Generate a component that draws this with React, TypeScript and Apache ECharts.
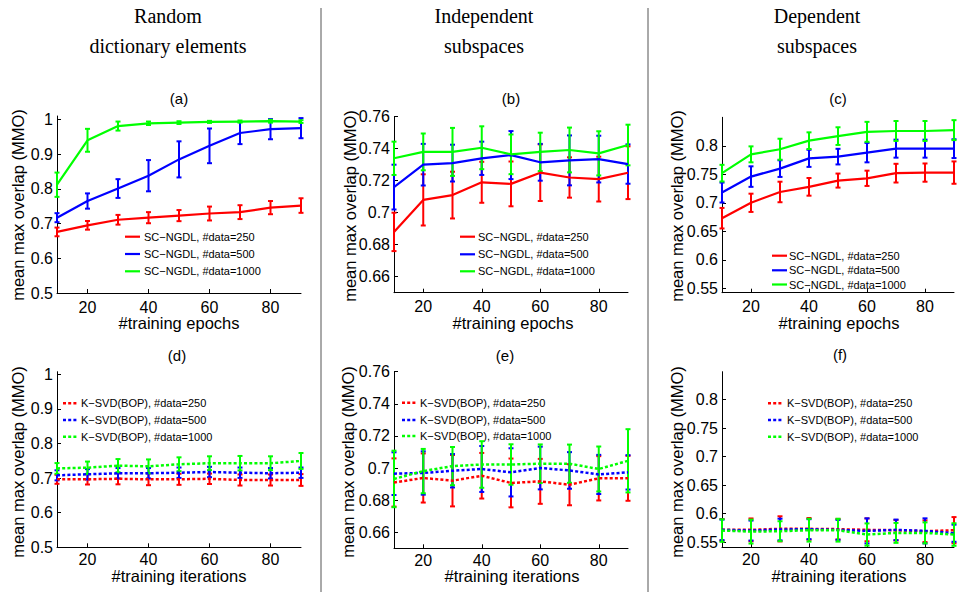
import React, { useEffect, useRef } from "react";
import * as echarts from "echarts";

// ---------- data ----------
const epochs = [10, 20, 30, 40, 50, 60, 70, 80, 90];
const xTicks = [20, 40, 60, 80];
const yTicksRandom = [0.5, 0.6, 0.7, 0.8, 0.9, 1];
const yTicksIndep = [0.66, 0.68, 0.7, 0.72, 0.74, 0.76];
const yTicksDep = [0.55, 0.6, 0.65, 0.7, 0.75, 0.8];

const columnTitles = [
  ["Random", "dictionary elements"],
  ["Independent", "subspaces"],
  ["Dependent", "subspaces"],
];
const panelLabels = ["(a)", "(b)", "(c)", "(d)", "(e)", "(f)"];
const yAxisName = "mean max overlap (MMO)";
const xNameTop = "#training epochs";
const xNameBottom = "#training iterations";
const ngdlNames = ["SC−NGDL, #data=250", "SC−NGDL, #data=500", "SC−NGDL, #data=1000"];
const ksvdNames = ["K−SVD(BOP), #data=250", "K−SVD(BOP), #data=500", "K−SVD(BOP), #data=1000"];

// (a) SC-NGDL, random dictionary elements
const a250 = [0.676, 0.695, 0.711, 0.717, 0.723, 0.729, 0.733, 0.746, 0.752];
const a250e = [0.0125, 0.0125, 0.014, 0.016, 0.016, 0.02, 0.02, 0.019, 0.021];
const a500 = [0.717, 0.765, 0.801, 0.838, 0.885, 0.924, 0.961, 0.972, 0.975];
const a500e = [0.013, 0.022, 0.027, 0.045, 0.052, 0.05, 0.032, 0.029, 0.029];
const a1000 = [0.812, 0.94, 0.981, 0.989, 0.991, 0.993, 0.994, 0.995, 0.994];
const a1000e = [0.035, 0.033, 0.013, 0.005, 0.004, 0.003, 0.003, 0.004, 0.004];

// (b) SC-NGDL, independent subspaces
const b250 = [0.688, 0.708, 0.711, 0.719, 0.718, 0.725, 0.722, 0.721, 0.725];
const b250e = [0.012, 0.016, 0.0146, 0.0128, 0.014, 0.0177, 0.0126, 0.014, 0.0165];
const b500 = [0.716, 0.73, 0.731, 0.734, 0.736, 0.7315, 0.7327, 0.7335, 0.7304];
const b500e = [0.014, 0.013, 0.0115, 0.0104, 0.015, 0.0115, 0.0156, 0.0146, 0.0123];
const b1000 = [0.734, 0.738, 0.738, 0.7406, 0.7365, 0.738, 0.7392, 0.7371, 0.7423];
const b1000e = [0.0104, 0.0115, 0.015, 0.0134, 0.0124, 0.012, 0.014, 0.0138, 0.0127];

// (c) SC-NGDL, dependent subspaces
const c250 = [0.673, 0.7, 0.719, 0.728, 0.739, 0.743, 0.752, 0.753, 0.753];
const c250e = [0.018, 0.016, 0.018, 0.0155, 0.0123, 0.0134, 0.0164, 0.016, 0.0196];
const c500 = [0.718, 0.746, 0.76, 0.778, 0.781, 0.788, 0.795, 0.795, 0.795];
const c500e = [0.0175, 0.018, 0.0146, 0.015, 0.0137, 0.017, 0.0158, 0.0158, 0.0165];
const c1000 = [0.752, 0.785, 0.794, 0.809, 0.817, 0.8245, 0.826, 0.826, 0.8275];
const c1000e = [0.0146, 0.014, 0.0184, 0.0146, 0.0155, 0.0175, 0.0175, 0.0175, 0.0175];

// (d) K-SVD, random dictionary elements
const d250 = [0.6965, 0.6965, 0.698, 0.6965, 0.6965, 0.698, 0.6945, 0.6945, 0.6945];
const d250e = [0.013, 0.015, 0.016, 0.017, 0.016, 0.015, 0.016, 0.016, 0.017];
const d500 = [0.708, 0.711, 0.714, 0.714, 0.7156, 0.7176, 0.7156, 0.714, 0.7156];
const d500e = [0.0145, 0.015, 0.015, 0.015, 0.015, 0.015, 0.015, 0.015, 0.015];
const d1000 = [0.728, 0.73, 0.736, 0.734, 0.74, 0.743, 0.743, 0.743, 0.7495];
const d1000e = [0.0154, 0.0178, 0.019, 0.02, 0.02, 0.02, 0.021, 0.02, 0.023];

// (e) K-SVD, independent subspaces
const e250 = [0.691, 0.6938, 0.6921, 0.6952, 0.6907, 0.6917, 0.6896, 0.6936, 0.6936];
const e250e = [0.015, 0.0153, 0.016, 0.0142, 0.0152, 0.014, 0.0128, 0.0138, 0.014];
const e500 = [0.6965, 0.6969, 0.6983, 0.6994, 0.6973, 0.7, 0.6985, 0.696, 0.6973];
const e500e = [0.0133, 0.0135, 0.0104, 0.0143, 0.015, 0.0133, 0.0114, 0.0122, 0.0107];
const e1000 = [0.6932, 0.6981, 0.7012, 0.7022, 0.7022, 0.7027, 0.7027, 0.6994, 0.7045];
const e1000e = [0.0176, 0.0138, 0.0119, 0.0145, 0.0126, 0.012, 0.0119, 0.014, 0.0197];

// (f) K-SVD, dependent subspaces
const f250 = [0.5716, 0.5716, 0.5734, 0.5734, 0.5728, 0.5716, 0.571, 0.5692, 0.571];
const f250e = [0.019, 0.02, 0.022, 0.019, 0.018, 0.02, 0.018, 0.019, 0.023];
const f500 = [0.5716, 0.5704, 0.5722, 0.5728, 0.5716, 0.5698, 0.5716, 0.5698, 0.5657];
const f500e = [0.018, 0.0175, 0.019, 0.0175, 0.0175, 0.022, 0.018, 0.022, 0.015];
const f1000 = [0.5704, 0.5686, 0.5692, 0.571, 0.571, 0.5634, 0.5663, 0.5663, 0.5634];
const f1000e = [0.0198, 0.021, 0.0175, 0.02, 0.02, 0.0195, 0.0175, 0.0184, 0.0198];

// ---------- layout / style ----------
const COLORS = ["#ff0000", "#0000ff", "#00ff00"];
const SANS = '"Liberation Sans", Arial, Helvetica, sans-serif';
const SERIF = '"Liberation Serif", "Times New Roman", serif';
const DOT = [3, 2.2];

const panels = [
  { grid: { left: 57, top: 116, width: 244, height: 177 }, yMin: 0.5, yMax: 1.01, ticks: yTicksRandom,
    means: [a250, a500, a1000], errs: [a250e, a500e, a1000e], names: ngdlNames, dotted: false,
    labelPos: [179, 98], xName: xNameTop, xNamePos: [179, 323], yNamePos: [18, 205],
    legend: { lx: 125, tx: 144, rows: [236.7, 254, 271.3] }, xMargin: 6 },
  { grid: { left: 394, top: 116.7, width: 234, height: 176 }, yMin: 0.65, yMax: 0.76, ticks: yTicksIndep,
    means: [b250, b500, b1000], errs: [b250e, b500e, b1000e], names: ngdlNames, dotted: false,
    labelPos: [511, 98], xName: xNameTop, xNamePos: [513, 323], yNamePos: [350, 206],
    legend: { lx: 460, tx: 478, rows: [236.7, 254.3, 271.3] }, xMargin: 6 },
  { grid: { left: 722, top: 117.3, width: 232, height: 175.4 }, yMin: 0.5423, yMax: 0.85, ticks: yTicksDep,
    means: [c250, c500, c1000], errs: [c250e, c500e, c1000e], names: ngdlNames, dotted: false,
    labelPos: [838, 98], xName: xNameTop, xNamePos: [839, 323], yNamePos: [677, 206],
    legend: { lx: 772, tx: 789, rows: [255.7, 270.3, 284.5] }, xMargin: 6 },
  { grid: { left: 57, top: 371.7, width: 244, height: 175.6 }, yMin: 0.5, yMax: 1.0075, ticks: yTicksRandom,
    means: [d250, d500, d1000], errs: [d250e, d500e, d1000e], names: ksvdNames, dotted: true,
    labelPos: [177, 355], xName: xNameBottom, xNamePos: [179, 576], yNamePos: [18, 462],
    legend: { lx: 63, tx: 81, rows: [403.3, 420, 436.7] }, xMargin: 4 },
  { grid: { left: 394, top: 371.7, width: 234, height: 176.6 }, yMin: 0.65, yMax: 0.76, ticks: yTicksIndep,
    means: [e250, e500, e1000], errs: [e250e, e500e, e1000e], names: ksvdNames, dotted: true,
    labelPos: [505, 355], xName: xNameBottom, xNamePos: [512, 576], yNamePos: [348, 462],
    legend: { lx: 402, tx: 420, rows: [402.7, 420, 436] }, xMargin: 4 },
  { grid: { left: 722, top: 371.7, width: 232, height: 175.6 }, yMin: 0.541, yMax: 0.849, ticks: yTicksDep,
    means: [f250, f500, f1000], errs: [f250e, f500e, f1000e], names: ksvdNames, dotted: true,
    labelPos: [840, 354], xName: xNameBottom, xNamePos: [839, 576], yNamePos: [677, 462],
    legend: { lx: 768, tx: 787, rows: [403.3, 420, 436.7] }, xMargin: 4 },
];

const columnCenters = [168, 484, 817];

function fmt(v: number) {
  return String(parseFloat(Number(v).toFixed(2)));
}

function buildOption() {
  const series: any[] = [];
  panels.forEach((p, i) => {
    p.means.forEach((m, k) => {
      const color = COLORS[k];
      series.push({
        type: "custom",
        xAxisIndex: i,
        yAxisIndex: i,
        silent: true,
        clip: false,
        data: epochs.map((x, j) => [x, m[j], p.errs[k][j]]),
        encode: { x: 0, y: 1 },
        renderItem: (params: any, api: any) => {
          const x = api.value(0);
          const mv = api.value(1);
          const ev = api.value(2);
          const top = api.coord([x, mv + ev]);
          const bot = api.coord([x, mv - ev]);
          const style = { stroke: color, lineWidth: 2 };
          const cw = 2.5;
          return {
            type: "group",
            children: [
              { type: "line", shape: { x1: top[0], y1: top[1], x2: bot[0], y2: bot[1] }, style },
              { type: "line", shape: { x1: top[0] - cw, y1: top[1], x2: top[0] + cw, y2: top[1] }, style },
              { type: "line", shape: { x1: bot[0] - cw, y1: bot[1], x2: bot[0] + cw, y2: bot[1] }, style },
            ],
          };
        },
      });
      series.push({
        type: "line",
        name: p.names[k],
        xAxisIndex: i,
        yAxisIndex: i,
        showSymbol: false,
        silent: true,
        data: epochs.map((x, j) => [x, m[j]]),
        lineStyle: p.dotted
          ? { color, width: 2.5, type: DOT }
          : { color, width: 2.2 },
      });
    });
  });

  const graphic: any[] = [];
  // separators
  [321, 648].forEach((x) =>
    graphic.push({ type: "line", shape: { x1: x, y1: 8, x2: x, y2: 592 }, style: { stroke: "#555", lineWidth: 1 } })
  );
  // column titles
  columnTitles.forEach((lines, c) => {
    lines.forEach((t, r) =>
      graphic.push({
        type: "text",
        x: columnCenters[c],
        y: 16 + r * 30,
        style: { text: t, fill: "#000", font: `20px ${SERIF}`, textAlign: "center", textVerticalAlign: "middle" },
      })
    );
  });
  panels.forEach((p, i) => {
    graphic.push({
      type: "text", x: p.labelPos[0], y: p.labelPos[1],
      style: { text: panelLabels[i], fill: "#000", font: `15px ${SANS}`, textAlign: "center", textVerticalAlign: "middle" },
    });
    graphic.push({
      type: "text", x: p.xNamePos[0], y: p.xNamePos[1],
      style: { text: p.xName, fill: "#000", font: `16.5px ${SANS}`, textAlign: "center", textVerticalAlign: "middle" },
    });
    graphic.push({
      type: "text", x: p.yNamePos[0], y: p.yNamePos[1], rotation: Math.PI / 2,
      style: { text: yAxisName, fill: "#000", font: `16.5px ${SANS}`, textAlign: "center", textVerticalAlign: "middle" },
    });
    p.legend.rows.forEach((ry, k) => {
      graphic.push({
        type: "line",
        shape: { x1: p.legend.lx, y1: ry, x2: p.legend.lx + 15, y2: ry },
        style: p.dotted
          ? { stroke: COLORS[k], lineWidth: 2.5, lineDash: DOT }
          : { stroke: COLORS[k], lineWidth: 2.2 },
      });
      graphic.push({
        type: "text", x: p.legend.tx, y: ry,
        style: { text: p.names[k], fill: "#000", font: `11px ${SANS}`, textAlign: "left", textVerticalAlign: "middle" },
      });
    });
  });

  return {
    animation: false,
    backgroundColor: "#fff",
    grid: panels.map((p) => ({ ...p.grid, containLabel: false })),
    xAxis: panels.map((p, i) => ({
      type: "value",
      gridIndex: i,
      min: 10,
      max: 90,
      axisLine: { show: true, onZero: false, lineStyle: { color: "#000", width: 1 } },
      axisTick: { show: true, inside: true, length: 4, customValues: xTicks, lineStyle: { color: "#000" } },
      axisLabel: { customValues: xTicks, color: "#000", fontSize: 16, fontFamily: SANS, margin: p.xMargin },
      splitLine: { show: false },
    })),
    yAxis: panels.map((p, i) => ({
      type: "value",
      gridIndex: i,
      min: p.yMin,
      max: p.yMax,
      axisLine: { show: true, onZero: false, lineStyle: { color: "#000", width: 1 } },
      axisTick: { show: true, inside: true, length: 4, customValues: p.ticks, lineStyle: { color: "#000" } },
      axisLabel: {
        customValues: p.ticks, color: "#000", fontSize: 16, fontFamily: SANS, margin: 4,
        formatter: (v: number) => fmt(v),
      },
      splitLine: { show: false },
    })),
    series,
    graphic,
  };
}

export default function App() {
  const ref = useRef<HTMLDivElement>(null);
  useEffect(() => {
    if (!ref.current) return;
    const chart = echarts.init(ref.current, null, { renderer: "svg" });
    chart.setOption(buildOption() as any);
    return () => chart.dispose();
  }, []);
  return (
    <div
      ref={ref}
      style={{ position: "fixed", left: 0, top: 0, width: 957, height: 592, background: "#fff" }}
    />
  );
}
